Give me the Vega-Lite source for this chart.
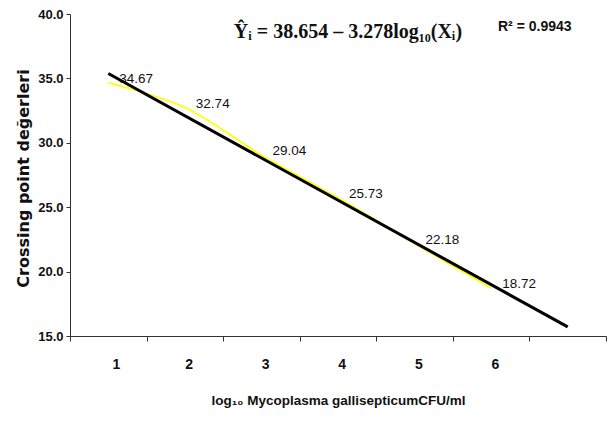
{
  "$schema": "https://vega.github.io/schema/vega-lite/v6.json",
  "width": 536,
  "height": 322,
  "autosize": "none",
  "padding": {"left": 70, "top": 14, "right": 9, "bottom": 85},
  "background": "white",
  "config": {"view": {"stroke": null}},
  "datasets": {
    "points": [
      {"x": 1, "ct": 34.67},
      {"x": 2, "ct": 32.74},
      {"x": 3, "ct": 29.04},
      {"x": 4, "ct": 25.73},
      {"x": 5, "ct": 22.18},
      {"x": 6, "ct": 18.72}
    ],
    "fit": [
      {"x": 1, "ct": 35.376},
      {"x": 7, "ct": 15.708}
    ]
  },
  "layer": [
    {
      "data": {"name": "points"},
      "mark": {"type": "line", "color": "#FFFF00", "strokeWidth": 1.8, "interpolate": "catmull-rom"},
      "encoding": {
        "x": {
          "field": "x", "type": "quantitative",
          "scale": {"domain": [0.5, 7.5], "nice": false, "zero": false},
          "axis": {
            "values": [0.5, 1.5, 2.5, 3.5, 4.5, 5.5, 6.5, 7.5],
            "labelExpr": "datum.value < 6 ? format(datum.value + 0.5, 'd') : ''",
            "labelOffset": 42,
            "grid": false,
            "domainColor": "#333333",
            "tickColor": "#333333",
            "tickSize": 5,
            "labelPadding": 16,
            "labelFont": "Liberation Sans",
            "labelFontWeight": "bold",
            "labelFontSize": 14,
            "labelColor": "#111111",
            "title": "log₁₀ Mycoplasma gallisepticumCFU/ml",
            "titleFont": "Liberation Sans",
            "titleFontWeight": "bold",
            "titleFontSize": 13.5,
            "titleColor": "#111111",
            "titlePadding": 22
          }
        },
        "y": {
          "field": "ct", "type": "quantitative",
          "scale": {"domain": [15, 40], "nice": false, "zero": false},
          "axis": {
            "values": [15, 20, 25, 30, 35, 40],
            "format": ".1f",
            "grid": false,
            "domainColor": "#333333",
            "tickColor": "#333333",
            "tickSize": 4,
            "labelPadding": 3,
            "labelFont": "Liberation Sans",
            "labelFontWeight": "bold",
            "labelFontSize": 13,
            "labelColor": "#111111",
            "title": "Crossing point değerleri",
            "titleFont": "DejaVu Sans",
            "titleFontWeight": "bold",
            "titleFontSize": 16,
            "titleColor": "#111111",
            "titleAngle": -90,
            "titleAlign": "center",
            "titleBaseline": "alphabetic",
            "titleX": -42,
            "titleY": 164
          }
        }
      }
    },
    {
      "data": {"name": "fit"},
      "mark": {"type": "line", "color": "#000000", "strokeWidth": 3},
      "encoding": {
        "x": {"field": "x", "type": "quantitative"},
        "y": {"field": "ct", "type": "quantitative"}
      }
    },
    {
      "data": {"name": "points"},
      "mark": {
        "type": "text", "align": "left", "baseline": "middle", "dx": 11, "dy": -4,
        "font": "Liberation Sans",
        "fontSize": 13.5, "color": "#111111"
      },
      "encoding": {
        "x": {"field": "x", "type": "quantitative"},
        "y": {"field": "ct", "type": "quantitative"},
        "text": {"field": "ct", "type": "quantitative", "format": ".2f"}
      }
    },
    {
      "data": {"values": [{"t": "Ŷᵢ = 38.654 – 3.278log₁₀(Xᵢ)"}]},
      "mark": {
        "type": "text", "align": "center", "baseline": "middle",
        "font": "Liberation Serif", "fontWeight": "bold", "fontSize": 20, "color": "#111111"
      },
      "encoding": {
        "x": {"datum": 4.13, "type": "quantitative"},
        "y": {"datum": 38.6, "type": "quantitative"},
        "text": {"field": "t"}
      }
    },
    {
      "data": {"values": [{"t": "R² = 0.9943"}]},
      "mark": {
        "type": "text", "align": "center", "baseline": "middle",
        "font": "Liberation Sans",
        "fontWeight": "bold", "fontSize": 14, "color": "#111111"
      },
      "encoding": {
        "x": {"datum": 6.57, "type": "quantitative"},
        "y": {"datum": 38.99, "type": "quantitative"},
        "text": {"field": "t"}
      }
    }
  ]
}
